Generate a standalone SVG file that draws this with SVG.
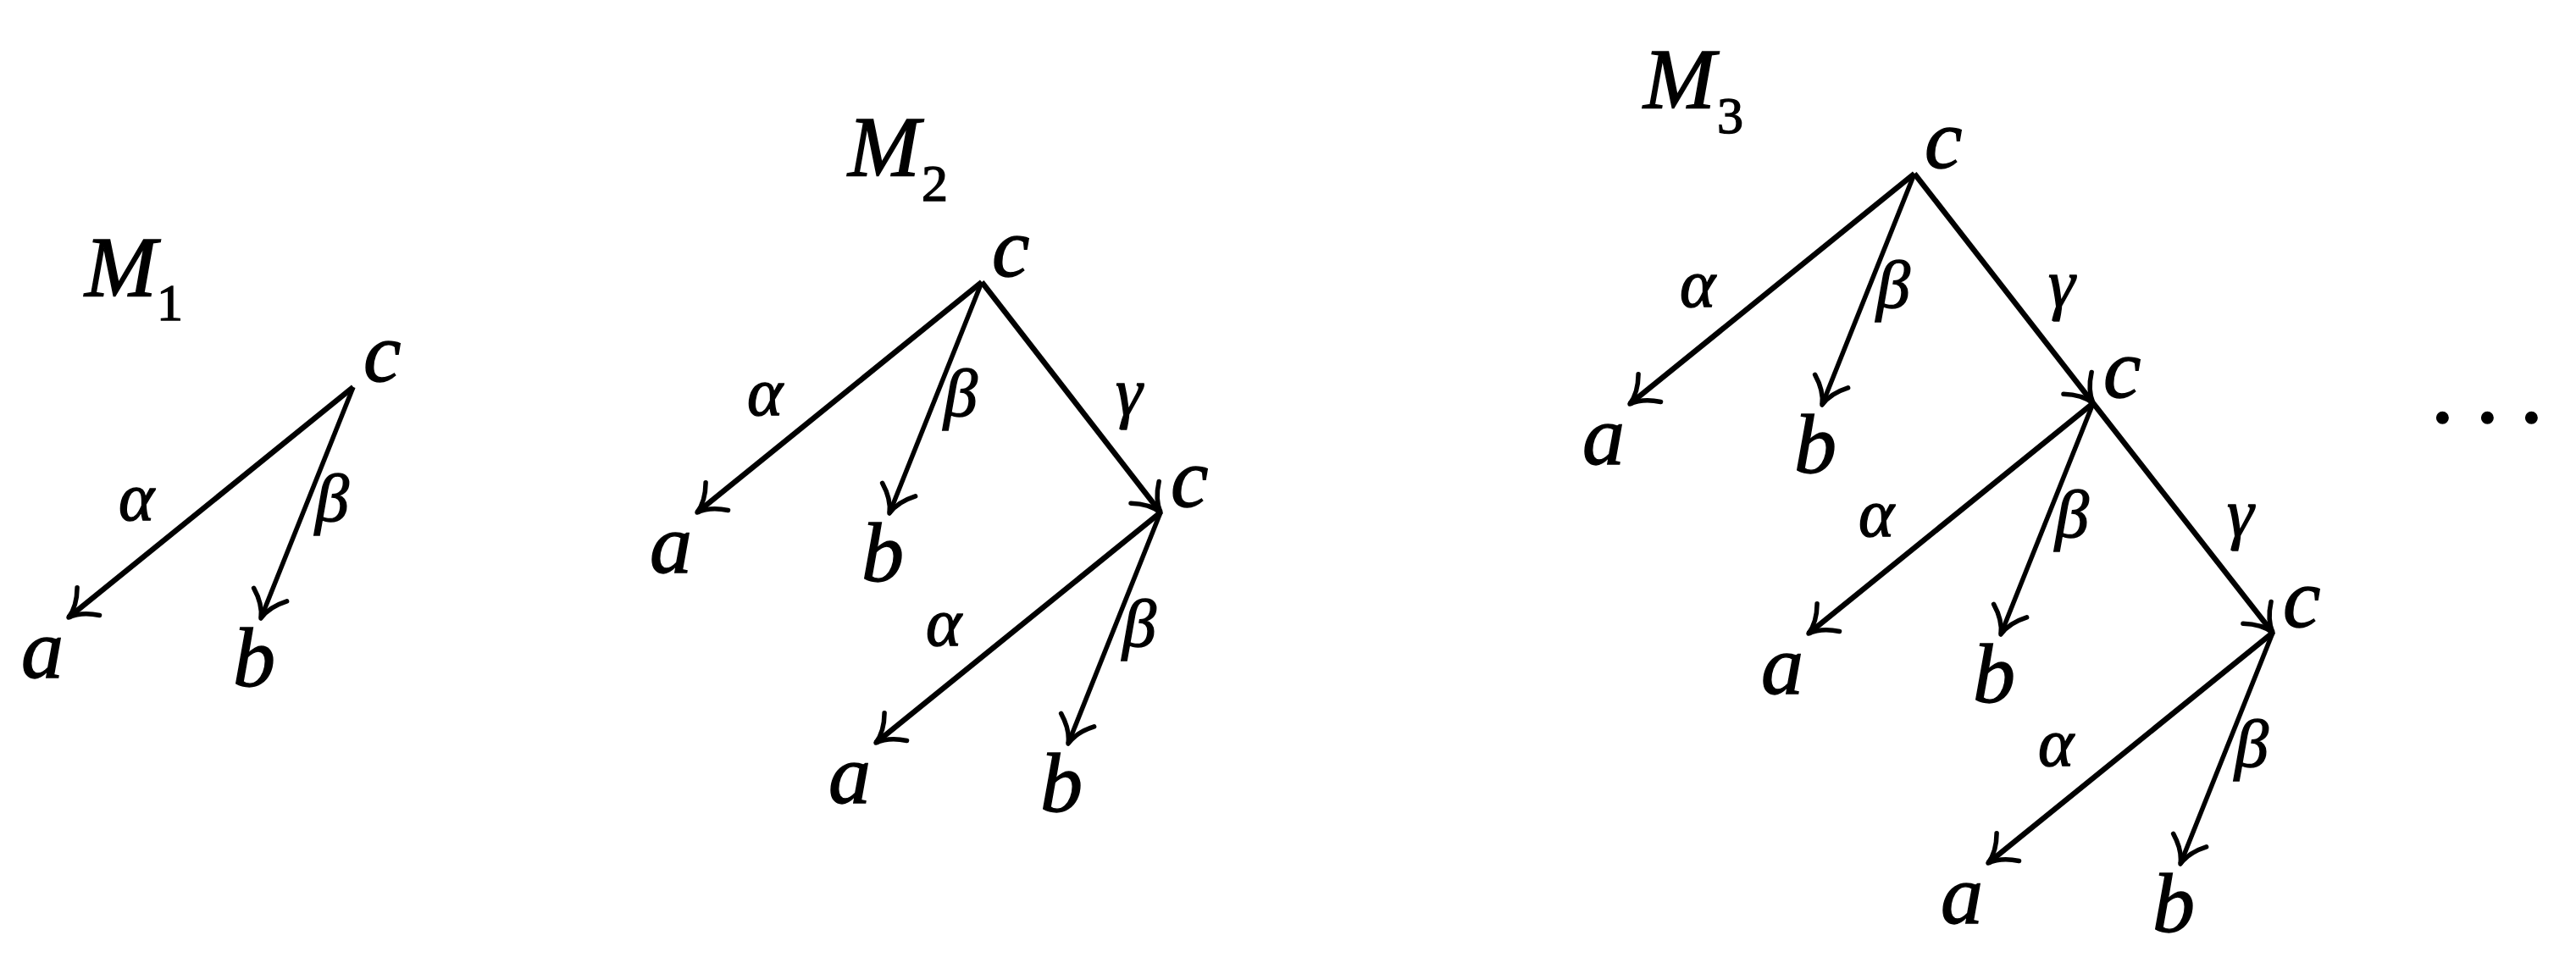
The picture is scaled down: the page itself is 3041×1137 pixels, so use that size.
<svg xmlns="http://www.w3.org/2000/svg" width="3041" height="1137" viewBox="0 0 3041 1137">
<style>
  text { stroke: #000; stroke-width: 1.4; }
  .n { font-family: "Liberation Serif", "Times New Roman", serif; font-style: italic; font-size: 100px; fill: #000; }
  .m { font-family: "Liberation Serif", "Times New Roman", serif; font-style: italic; font-size: 102px; fill: #000; }
  .sub { font-family: "Liberation Serif", "Times New Roman", serif; font-size: 62px; fill: #000; }
  .g { font-family: "Liberation Serif", "Times New Roman", serif; font-style: italic; font-size: 80px; fill: #000; }
  .dots { font-family: "Liberation Serif", "Times New Roman", serif; font-size: 115px; fill: #000; }
  .e { stroke: #000; stroke-width: 6.5; fill: none; marker-end: url(#arr); }
  .eb { stroke: #000; stroke-width: 5.5; fill: none; marker-end: url(#arr); }
</style>
<defs>
  <marker id="arr" markerUnits="userSpaceOnUse" viewBox="-40 -25 44 50" refX="0" refY="0" markerWidth="44" markerHeight="50" orient="auto" overflow="visible">
    <path d="M-30,-21 Q-16,-4 0,0 Q-16,4 -30,21" fill="none" stroke="#000" stroke-width="5.5" stroke-linecap="round" stroke-linejoin="round"/>
  </marker>
</defs>
<rect width="3041" height="1137" fill="#fff"/>

<!-- titles -->
<g id="title-M1"><text class="m" x="100" y="350">M</text><text class="sub" x="185" y="378">1</text></g>
<g id="title-M2"><text class="m" x="1001" y="208">M</text><text class="sub" x="1088" y="237">2</text></g>
<g id="title-M3"><text class="m" x="1940" y="128">M</text><text class="sub" x="2027" y="157">3</text></g>

<!-- connectors -->
<g id="connectors">
  <!-- M1 -->
  <line class="e" x1="417" y1="457" x2="81" y2="729"/>
  <line class="eb" x1="417" y1="457" x2="308" y2="730"/>
  <!-- M2 -->
  <line class="e" x1="1159" y1="333" x2="823" y2="605"/>
  <line class="eb" x1="1159" y1="333" x2="1050" y2="606"/>
  <line class="e" x1="1159" y1="333" x2="1370" y2="605"/>
  <line class="e" x1="1370" y1="605" x2="1034" y2="877"/>
  <line class="eb" x1="1370" y1="605" x2="1261" y2="878"/>
  <!-- M3 -->
  <line class="e" x1="2260" y1="205" x2="1924" y2="477"/>
  <line class="eb" x1="2260" y1="205" x2="2151" y2="478"/>
  <line class="e" x1="2260" y1="205" x2="2471" y2="476"/>
  <line class="e" x1="2471" y1="476" x2="2135" y2="748"/>
  <line class="eb" x1="2471" y1="476" x2="2362" y2="749"/>
  <line class="e" x1="2471" y1="476" x2="2683" y2="747"/>
  <line class="e" x1="2683" y1="747" x2="2347" y2="1019"/>
  <line class="eb" x1="2683" y1="747" x2="2574" y2="1020"/>
</g>

<!-- edge labels -->
<g id="edge-labels">
  <text class="g" x="140" y="614">α</text>
  <text class="g" x="372" y="615">β</text>

  <text class="g" x="882" y="490">α</text>
  <text class="g" x="1114" y="491">β</text>
  <text class="g" x="1317" y="490">γ</text>
  <text class="g" x="1093" y="762">α</text>
  <text class="g" x="1325" y="763">β</text>

  <text class="g" x="1983" y="362">α</text>
  <text class="g" x="2215" y="363">β</text>
  <text class="g" x="2418" y="362">γ</text>
  <text class="g" x="2194" y="633">α</text>
  <text class="g" x="2426" y="634">β</text>
  <text class="g" x="2629" y="633">γ</text>
  <text class="g" x="2406" y="904">α</text>
  <text class="g" x="2638" y="905">β</text>
</g>

<!-- M1 nodes -->
<g id="m1-c"><text class="n" x="429" y="450">c</text></g>
<g id="m1-a"><text class="n" x="25" y="800">a</text></g>
<g id="m1-b"><text class="n" x="275" y="810">b</text></g>

<!-- M2 nodes -->
<g id="m2-c1"><text class="n" x="1171" y="326">c</text></g>
<g id="m2-a1"><text class="n" x="767" y="676">a</text></g>
<g id="m2-b1"><text class="n" x="1017" y="686">b</text></g>
<g id="m2-c2"><text class="n" x="1382" y="598">c</text></g>
<g id="m2-a2"><text class="n" x="978" y="948">a</text></g>
<g id="m2-b2"><text class="n" x="1228" y="958">b</text></g>

<!-- M3 nodes -->
<g id="m3-c1"><text class="n" x="2272" y="198">c</text></g>
<g id="m3-a1"><text class="n" x="1868" y="548">a</text></g>
<g id="m3-b1"><text class="n" x="2118" y="558">b</text></g>
<g id="m3-c2"><text class="n" x="2483" y="469">c</text></g>
<g id="m3-a2"><text class="n" x="2079" y="819">a</text></g>
<g id="m3-b2"><text class="n" x="2329" y="829">b</text></g>
<g id="m3-c3"><text class="n" x="2695" y="740">c</text></g>
<g id="m3-a3"><text class="n" x="2291" y="1090">a</text></g>
<g id="m3-b3"><text class="n" x="2541" y="1100">b</text></g>

<!-- ellipsis -->
<g id="ellipsis"><text class="dots" x="2869 2922 2974" y="498">...</text></g>
</svg>
